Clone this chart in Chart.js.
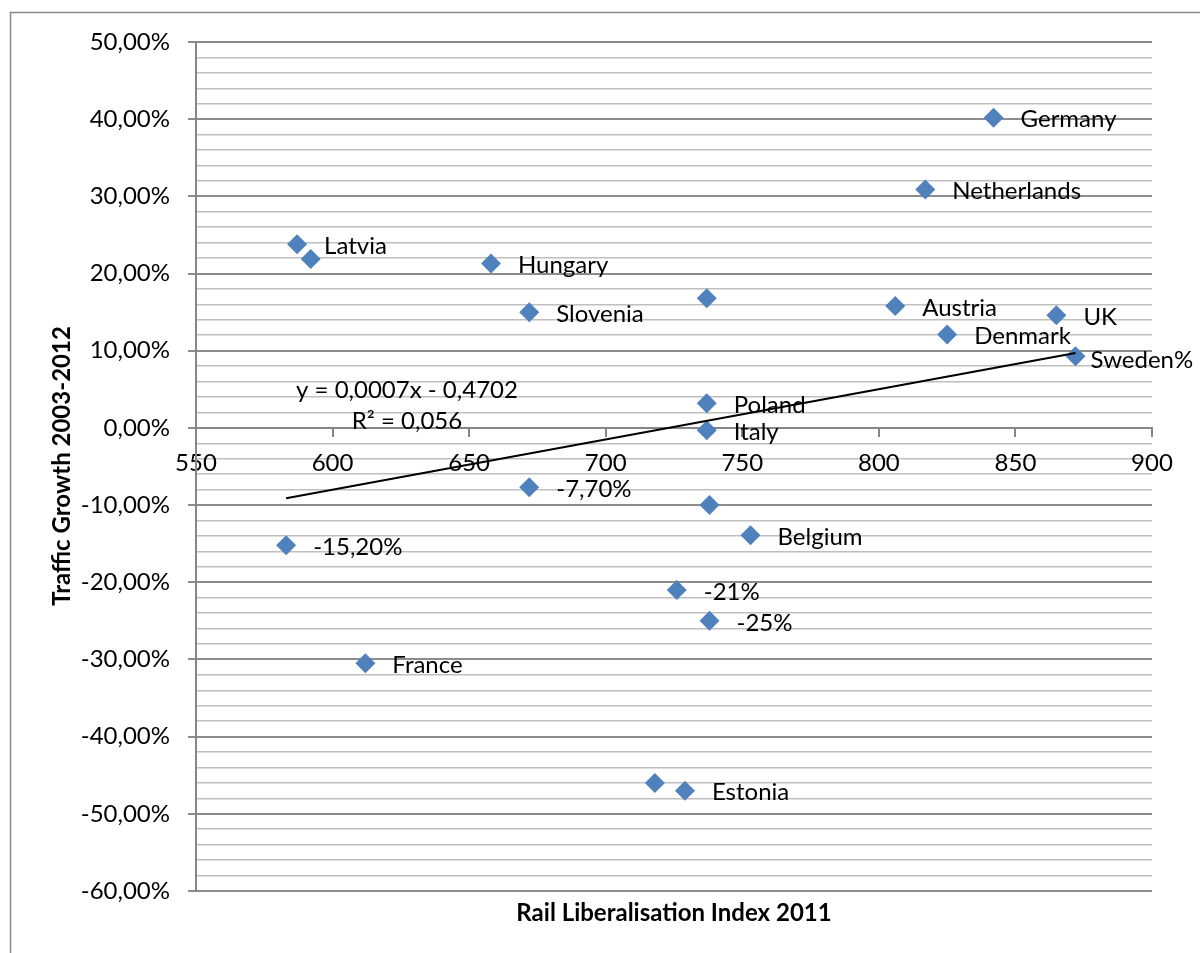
<!DOCTYPE html>
<html>
<head>
<meta charset="utf-8">
<script src="https://cdn.jsdelivr.net/npm/chart.js@4.4.1/dist/chart.umd.min.js"></script>
<style>
  body { margin: 0; background: #fff; }
  canvas { display: block; }
</style>
</head>
<body>
<canvas id="chart" width="1200" height="953"></canvas>
<script>
// data
var countries = ['Germany', 'Netherlands', 'Latvia', '', 'Hungary', 'Slovenia', '', 'Austria', 'UK', 'Denmark',
                 'Sweden%', 'Poland', 'Italy', '-7,70%', '-15,20%', '', 'Belgium', '-21%', '-25%', 'France', '', 'Estonia'];
var liberalisationIndex = [842, 817, 587, 592, 658, 672, 737, 806, 865, 825,
                           872, 737, 737, 672, 583, 738, 753, 726, 738, 612, 718, 729];
var trafficGrowth = [0.402, 0.309, 0.238, 0.219, 0.213, 0.150, 0.168, 0.158, 0.146, 0.121,
                     0.093, 0.032, -0.003, -0.077, -0.152, -0.100, -0.139, -0.210, -0.250, -0.305, -0.460, -0.470];
// linear trend line as drawn (ends at the min / max x)
var trendX = [583, 872];
var trendY = [-0.091, 0.097];
var xTicks = [550, 600, 650, 700, 750, 800, 850, 900];

var FONT = 'Lato';
var majorGrid = '#8c8c8c';
var minorGrid = '#bfbfbf';

var points = liberalisationIndex.map(function(x, i) { return { x: x, y: trafficGrowth[i] }; });
var trend = trendX.map(function(x, i) { return { x: x, y: trendY[i] }; });

function isMajor(v) {
    return Math.round(v * 100) % 10 === 0;
}

// frame around the whole chart
var framePlugin = {
    id: 'frame',
    beforeDraw: function(chart) {
        var ctx = chart.ctx;
        ctx.save();
        ctx.fillStyle = '#fff';
        ctx.fillRect(0, 0, chart.width, chart.height);
        ctx.strokeStyle = '#8a8a8a';
        ctx.lineWidth = 1.5;
        ctx.strokeRect(10.5, 12.5, 1400, 1100);
        ctx.restore();
    }
};

// data labels next to the diamonds
var labelShift = { 'Sweden%': [15, 4] };
var labelPlugin = {
    id: 'pointLabels',
    afterDatasetsDraw: function(chart) {
        var ctx = chart.ctx;
        var meta = chart.getDatasetMeta(1);
        ctx.save();
        ctx.font = '24px ' + FONT;
        ctx.fillStyle = '#000';
        ctx.textBaseline = 'middle';
        ctx.textAlign = 'left';
        meta.data.forEach(function(pt, i) {
            var txt = countries[i];
            if (!txt) return;
            var s = labelShift[txt] || [27, 2];
            ctx.fillText(txt, pt.x + s[0], pt.y + s[1]);
        });
        ctx.restore();
    }
};

// axis titles and trend equation
var textPlugin = {
    id: 'texts',
    afterDraw: function(chart) {
        var ctx = chart.ctx;
        ctx.save();
        ctx.fillStyle = '#000';
        ctx.textAlign = 'center';
        ctx.textBaseline = 'middle';
        ctx.font = '24px ' + FONT;
        ctx.fillText('y = 0,0007x - 0,4702', 407, 390);
        ctx.fillText('R\u00b2 = 0,056', 407, 421);
        ctx.font = 'bold 24px ' + FONT;
        ctx.fillText('Rail Liberalisation Index 2011', 674, 913);
        ctx.translate(62, 466);
        ctx.rotate(-Math.PI / 2);
        ctx.fillText('Traffic Growth 2003-2012', 0, 0);
        ctx.restore();
    }
};

var ctx = document.getElementById('chart').getContext('2d');
var myChart = new Chart(ctx, {
    type: 'scatter',
    data: {
        datasets: [{
            label: 'Linear',
            data: trend,
            showLine: true,
            borderColor: '#000',
            borderWidth: 2,
            pointRadius: 0
        }, {
            label: 'Traffic Growth 2003-2012',
            data: points,
            pointStyle: 'rectRot',
            pointRadius: 10,
            pointHoverRadius: 10,
            backgroundColor: '#4f81bd',
            borderColor: '#4f81bd',
            borderWidth: 0
        }]
    },
    options: {
        responsive: false,
        animation: false,
        layout: { padding: { left: 0, top: 42, right: 48, bottom: 62 } },
        plugins: {
            legend: { display: false },
            tooltip: { enabled: false }
        },
        scales: {
            x: {
                type: 'linear',
                position: { y: 0 },
                min: 550,
                max: 900,
                afterFit: function(scale) { scale.height = 0; },
                afterBuildTicks: function(scale) {
                    scale.ticks = xTicks.map(function(v) { return { value: v }; });
                },
                grid: {
                    drawOnChartArea: false,
                    tickLength: 8,
                    color: '#868686',
                    lineWidth: 2
                },
                border: { display: true, color: '#868686', width: 2 },
                ticks: {
                    padding: 13,
                    color: '#000',
                    font: { family: FONT, size: 24 },
                    maxRotation: 0,
                    autoSkip: false
                }
            },
            y: {
                type: 'linear',
                min: -0.6,
                max: 0.5,
                afterFit: function(scale) { scale.width = 196; },
                grid: {
                    tickLength: 8,
                    color: function(c) { return isMajor(c.tick.value) ? majorGrid : minorGrid; },
                    tickColor: function(c) { return isMajor(c.tick.value) ? majorGrid : 'rgba(0,0,0,0)'; },
                    lineWidth: function(c) { return isMajor(c.tick.value) ? 2 : 1.6; }
                },
                border: { display: true, color: '#868686', width: 2 },
                ticks: {
                    stepSize: 0.02,
                    autoSkip: false,
                    padding: 18,
                    color: '#000',
                    font: { family: FONT, size: 24 },
                    callback: function(v) {
                        var p = Math.round(v * 100);
                        if (p % 10 !== 0) return '';
                        return (p === 0 ? 0 : p).toFixed(2).replace('.', ',') + '%';
                    }
                }
            }
        }
    },
    plugins: [framePlugin, labelPlugin, textPlugin]
});
</script>
</body>
</html>
